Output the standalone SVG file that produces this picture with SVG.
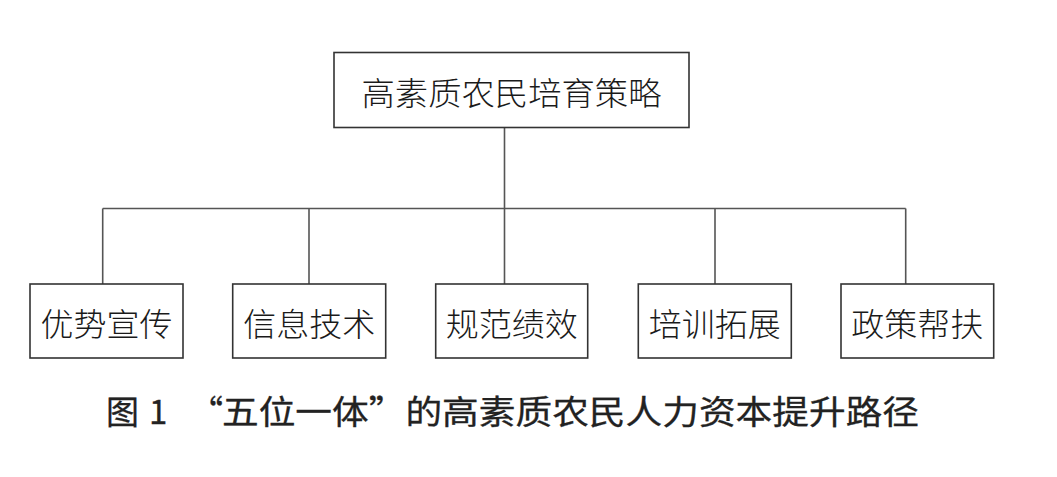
<svg xmlns="http://www.w3.org/2000/svg" width="1057" height="477" viewBox="0 0 1057 477">
<style>
.box{fill:#fff;stroke:#333;stroke-width:1.6}
.lbl{font-family:"Noto Sans CJK SC","Noto Sans CJK JP",sans-serif;font-weight:300;font-size:32px;fill:#1a1a1a;text-anchor:middle;dominant-baseline:central}
.conn{fill:none;stroke:#555;stroke-width:1.6}
.cap{font-family:"Noto Sans CJK SC","Noto Sans CJK JP",sans-serif;font-weight:400;font-size:33px;fill:#222;stroke:#222;stroke-width:0.3;dominant-baseline:central}
</style>
<rect width="1057" height="477" fill="#fff"/>
<g id="connectors">
<path class="conn" d="M504.5 127V208.5M102.7 208.5H905.7M102.7 208.5V284M309 208.5V284M504.5 208.5V284M715 208.5V284M905.7 208.5V284"/>
</g>
<g id="root">
<rect class="box" x="334" y="52.5" width="355" height="75"/>
<text class="lbl" x="511.5" y="90.5" textLength="300" lengthAdjust="spacingAndGlyphs">高素质农民培育策略</text>
</g>
<g id="n1">
<rect class="box" x="30" y="284" width="153" height="74"/>
<text class="lbl" x="106.5" y="321.5" textLength="132" lengthAdjust="spacingAndGlyphs">优势宣传</text>
</g>
<g id="n2">
<rect class="box" x="232.7" y="284" width="153" height="74"/>
<text class="lbl" x="309.2" y="321.5" textLength="132" lengthAdjust="spacingAndGlyphs">信息技术</text>
</g>
<g id="n3">
<rect class="box" x="435.7" y="284" width="152" height="74"/>
<text class="lbl" x="511.7" y="321.5" textLength="132" lengthAdjust="spacingAndGlyphs">规范绩效</text>
</g>
<g id="n4">
<rect class="box" x="638.3" y="284" width="153" height="74"/>
<text class="lbl" x="714.8" y="321.5" textLength="132" lengthAdjust="spacingAndGlyphs">培训拓展</text>
</g>
<g id="n5">
<rect class="box" x="841" y="284" width="152.7" height="74"/>
<text class="lbl" x="917.3" y="321.5" textLength="132" lengthAdjust="spacingAndGlyphs">政策帮扶</text>
</g>
<g id="caption">
<text class="cap" y="410"><tspan x="106">图</tspan><tspan x="149">1</tspan><tspan x="190">“</tspan></text>
<text class="cap" x="222" y="410" textLength="697" lengthAdjust="spacingAndGlyphs">五位一体”的高素质农民人力资本提升路径</text>
</g>
</svg>
